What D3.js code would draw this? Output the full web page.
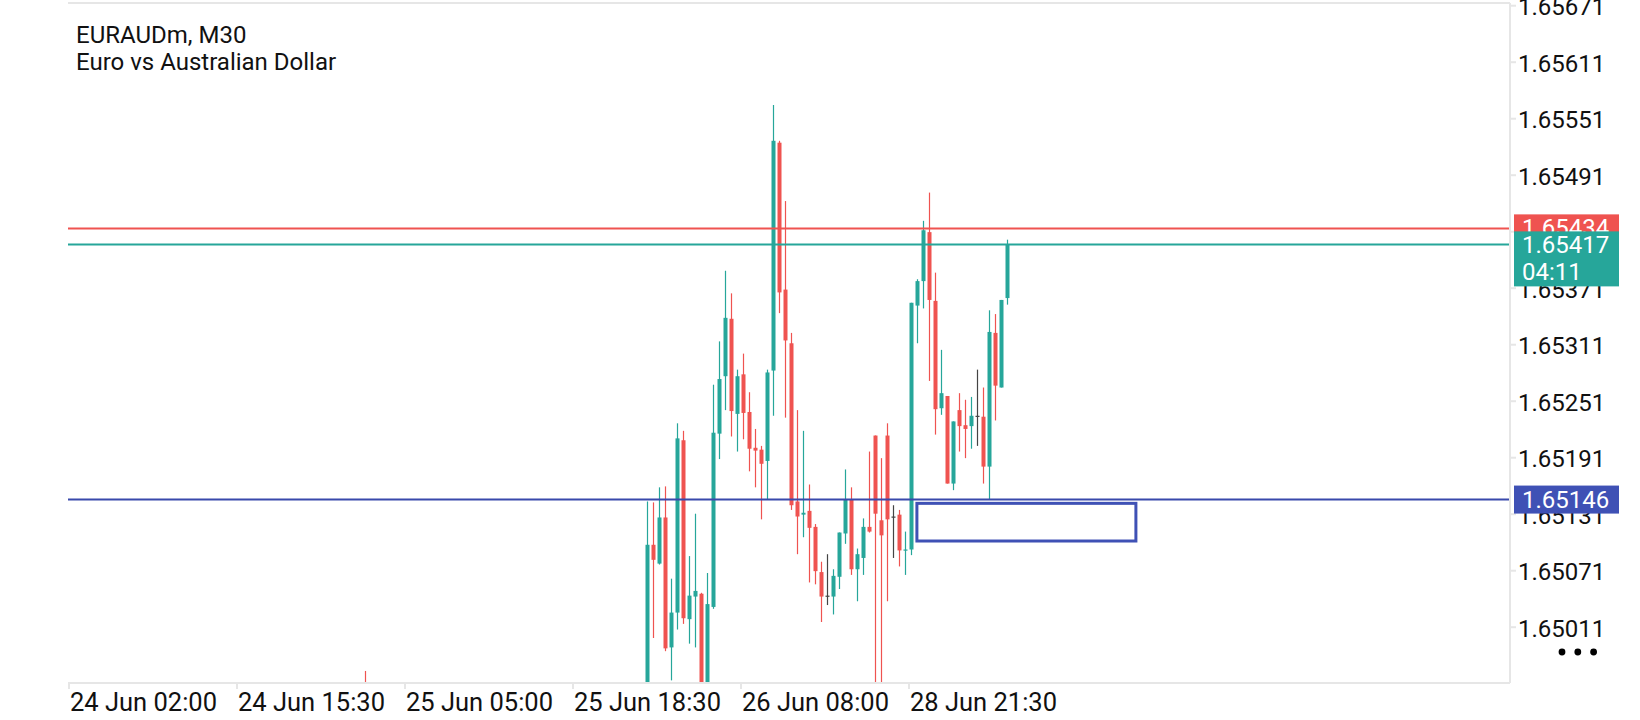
<!DOCTYPE html>
<html>
<head>
<meta charset="utf-8">
<script src="https://cdnjs.cloudflare.com/ajax/libs/d3/7.8.5/d3.min.js"></script>
<style>
body{margin:0;background:#fff;overflow:hidden}
text{font-family:Roboto,sans-serif}
</style>
</head>
<body>
<script>
var symbolName = "EURAUDm, M30";
var symbolDesc = "Euro vs Australian Dollar";

// M30 bars, counted from the first label on the time axis
var barNo = [49,
  96,97,98,99,100,101,102,103,104,105,106,107,108,109,110,111,112,113,114,115,
  116,117,118,119,120,121,122,123,124,125,126,127,128,129,130,131,132,133,134,135,
  136,137,138,139,140,141,142,143,144,145,146,147,148,149,150,151,152,153,154,155,156];
var opens = [1.64940,
  1.64930,1.65098,1.65078,1.65127,1.64989,1.65026,1.65209,1.65019,1.65043,1.65046,
  1.64935,1.65032,1.65216,1.65277,1.65338,1.65237,1.65279,1.65239,1.65201,1.65199,
  1.65187,1.65283,1.65525,1.65369,1.65312,1.65144,1.65130,1.65134,1.65117,1.65069,
  1.65044,1.65043,1.65064,1.65110,1.65146,1.65072,1.65084,1.65117,1.65214,1.65124,
  1.65214,1.65128,1.65130,1.65092,1.65093,1.65352,1.65378,1.65430,1.65357,1.65243,
  1.65256,1.65163,1.65241,1.65225,1.65224,1.65235,1.65234,1.65181,1.65323,1.65265,1.65360];
var highs = [1.64964,
  1.65144,1.65143,1.65159,1.65160,1.65062,1.65227,1.65219,1.65086,1.65131,1.65047,
  1.65068,1.65268,1.65314,1.65389,1.65365,1.65284,1.65301,1.65260,1.65221,1.65203,
  1.65284,1.65565,1.65527,1.65463,1.65323,1.65241,1.65219,1.65162,1.65120,1.65080,
  1.65088,1.65072,1.65111,1.65178,1.65159,1.65094,1.65126,1.65197,1.65214,1.65190,
  1.65227,1.65140,1.65135,1.65112,1.65355,1.65380,1.65442,1.65472,1.65387,1.65305,
  1.65256,1.65229,1.65259,1.65252,1.65255,1.65284,1.65265,1.65347,1.65343,1.65358,1.65422];
var lows = [1.64910,
  1.64900,1.64999,1.65077,1.64985,1.64954,1.65008,1.65014,1.64993,1.64989,1.64915,
  1.64920,1.65030,1.65189,1.65241,1.65213,1.65197,1.65210,1.65176,1.65159,1.65125,
  1.65146,1.65235,1.65344,1.65233,1.65135,1.65088,1.65106,1.65058,1.65056,1.65016,
  1.65034,1.65024,1.65051,1.65099,1.65066,1.65038,1.65066,1.65111,1.64930,1.64925,
  1.65038,1.65084,1.65075,1.65066,1.65087,1.65312,1.65349,1.65272,1.65215,1.65236,
  1.65163,1.65156,1.65197,1.65190,1.65200,1.65203,1.65163,1.65146,1.65230,1.65265,1.65353];
var closes = [1.64925,
  1.65098,1.65082,1.65127,1.64988,1.65026,1.65211,1.65020,1.65044,1.65049,1.64935,
  1.65035,1.65217,1.65274,1.65339,1.65240,1.65277,1.65238,1.65200,1.65198,1.65184,
  1.65281,1.65527,1.65366,1.65315,1.65140,1.65128,1.65132,1.65116,1.65070,1.65043,
  1.65044,1.65065,1.65111,1.65146,1.65072,1.65088,1.65117,1.65112,1.65131,1.65108,
  1.65125,1.65128,1.65092,1.65093,1.65355,1.65378,1.65432,1.65358,1.65242,1.65259,
  1.65163,1.65229,1.65224,1.65221,1.65235,1.65235,1.65181,1.65324,1.65267,1.65358,1.65417];

var xTickBars = [0, 28, 56, 84, 112, 140];
var xTickLabels = ["24 Jun 02:00", "24 Jun 15:30", "25 Jun 05:00", "25 Jun 18:30", "26 Jun 08:00", "28 Jun 21:30"];
var yTicks = [1.65011, 1.65071, 1.65131, 1.65191, 1.65251, 1.65311, 1.65371, 1.65431, 1.65491, 1.65551, 1.65611, 1.65671];

var askPrice = 1.65434;
var bidPrice = 1.65417;
var countdown = "04:11";
var userLevel = 1.65146;
// drawn rectangle: bar from/to and price top/bottom
var boxBars = [141.4, 177.9];
var boxPrices = [1.65142, 1.65102];

var W = 1640, H = 720;
var pLeft = 68, pRight = 1510, pTop = 3, pBottom = 683;
var green = "#26a69a", red = "#ef5350", blue = "#3f51b5", doji = "#444", frame = "#e6e6e6";

var x = d3.scaleLinear().domain([0, 240.25]).range([68.5, pRight]);
var y = d3.scaleLinear().domain([1.65011, 1.65611]).range([626.7, 61.7]);

var svg = d3.select("body").append("svg").attr("width", W).attr("height", H);

svg.append("defs").append("clipPath").attr("id", "plotclip")
  .append("rect").attr("x", pLeft).attr("y", pTop).attr("width", pRight - pLeft).attr("height", pBottom - pTop);

// frame
svg.append("line").attr("x1", pLeft).attr("x2", pRight).attr("y1", pTop).attr("y2", pTop)
  .attr("stroke", frame).attr("stroke-width", 2);

var candles = barNo.map(function(b, i) {
  return {bar: b, o: opens[i], h: highs[i], l: lows[i], c: closes[i]};
});
function col(d) { return d.c > d.o ? green : (d.c < d.o ? red : doji); }

var plot = svg.append("g").attr("clip-path", "url(#plotclip)");

plot.selectAll(".wick").data(candles).enter().append("line")
  .attr("x1", function(d) { return x(d.bar + 0.5); })
  .attr("x2", function(d) { return x(d.bar + 0.5); })
  .attr("y1", function(d) { return y(d.h); })
  .attr("y2", function(d) { return y(d.l); })
  .attr("stroke", col).attr("stroke-width", 1.2);

plot.selectAll(".body").data(candles).enter().append("rect")
  .attr("x", function(d) { return x(d.bar + 0.5) - 2; })
  .attr("width", 4)
  .attr("y", function(d) { return y(Math.max(d.o, d.c)); })
  .attr("height", function(d) { return Math.max(1.2, Math.abs(y(d.o) - y(d.c))); })
  .attr("fill", col);

// price lines
var levels = [
  {p: userLevel, c: "#3949ab"},
  {p: askPrice, c: red},
  {p: bidPrice, c: green}
];
plot.selectAll(".lvl").data(levels).enter().append("line")
  .attr("x1", pLeft).attr("x2", pRight)
  .attr("y1", function(d) { return y(d.p); }).attr("y2", function(d) { return y(d.p); })
  .attr("stroke", function(d) { return d.c; }).attr("stroke-width", 2);

plot.append("rect")
  .attr("x", x(boxBars[0])).attr("y", y(boxPrices[0]))
  .attr("width", x(boxBars[1]) - x(boxBars[0])).attr("height", y(boxPrices[1]) - y(boxPrices[0]))
  .attr("fill", "none").attr("stroke", blue).attr("stroke-width", 3);

// axes
var xAxis = svg.append("g").attr("transform", "translate(0," + pBottom + ")")
  .call(d3.axisBottom(x).tickValues(xTickBars).tickFormat(function(d, i) { return xTickLabels[i]; })
    .tickSize(6).tickPadding(4));
xAxis.select(".domain").attr("stroke", frame).attr("stroke-width", 2).attr("d", "M" + pLeft + ",0H" + pRight);
xAxis.selectAll(".tick line").attr("stroke", frame).attr("stroke-width", 2);
xAxis.selectAll(".tick text").attr("text-anchor", "start").attr("x", 1)
  .style("font-size", "25.5px").attr("fill", "#111");

var yAxis = svg.append("g").attr("transform", "translate(" + pRight + ",0)")
  .call(d3.axisRight(y).tickValues(yTicks).tickFormat(d3.format(".5f")).tickSize(6).tickPadding(2));
yAxis.select(".domain").attr("stroke", frame).attr("stroke-width", 2).attr("d", "M0," + pTop + "V" + pBottom);
yAxis.selectAll(".tick line").attr("stroke", frame).attr("stroke-width", 2);
yAxis.selectAll(".tick text").attr("dy", "0.4em").style("font-size", "24px").attr("fill", "#111");

// price tags on the scale
function tag(p, bg, h, lines, offTop) {
  var g = svg.append("g");
  var t = y(p) - offTop;
  g.append("rect").attr("x", 1514).attr("y", t).attr("width", 105).attr("height", h).attr("fill", bg);
  lines.forEach(function(s, i) {
    g.append("text").attr("x", 1522).attr("y", t + 22 + i * 27).text(s)
      .style("font-size", "24px").attr("fill", "#fff");
  });
}
tag(askPrice, red, 28, [d3.format(".5f")(askPrice)], 14);
tag(bidPrice, green, 55, [d3.format(".5f")(bidPrice), countdown], 13);
tag(userLevel, blue, 28, [d3.format(".5f")(userLevel)], 14);

// menu dots
svg.selectAll(".dot").data([0, 1, 2]).enter().append("circle")
  .attr("cx", function(d) { return 1562 + d * 15.8; }).attr("cy", 652).attr("r", 3.4).attr("fill", "#000");

// symbol title
svg.append("text").attr("x", 76).attr("y", 43).text(symbolName).style("font-size", "24px").attr("fill", "#111");
svg.append("text").attr("x", 76).attr("y", 70).text(symbolDesc).style("font-size", "24px").attr("fill", "#111");
</script>
</body>
</html>
